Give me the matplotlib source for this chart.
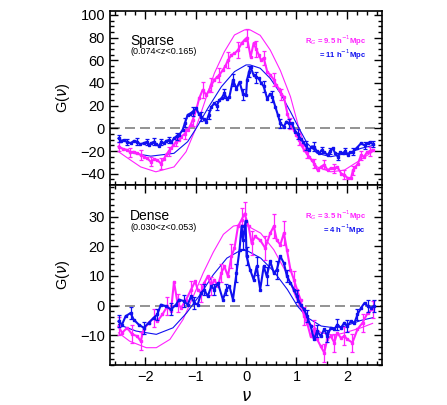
import matplotlib
matplotlib.use('Agg')
import matplotlib.pyplot as plt
from matplotlib.ticker import MultipleLocator
import numpy as np

plt.rcParams['font.family'] = ['Liberation Sans', 'DejaVu Sans']
plt.rcParams['mathtext.fontset'] = 'dejavusans'

MAG = '#ff22ff'
BLU = '#1010f0'

# ---- Sparse sample (top panel) ----
sp_mag_nu = [-2.53, -2.45, -2.36, -2.3, -2.23, -2.16, -2.09, -2.02, -1.96, -1.89, -1.82, -1.76, -1.69,
             -1.63, -1.59, -1.53, -1.49, -1.44, -1.39, -1.34, -1.29, -1.22, -1.16, -1.1, -1.06, -0.99,
             -0.93, -0.86, -0.79, -0.74, -0.69, -0.63, -0.58, -0.53, -0.46, -0.41, -0.36, -0.29, -0.23,
             -0.16, -0.09, -0.03, 0.02, 0.09, 0.15, 0.2, 0.25, 0.3, 0.35, 0.42, 0.48, 0.55, 0.6, 0.65,
             0.7, 0.75, 0.82, 0.88, 0.95, 1.0, 1.05, 1.1, 1.15, 1.2, 1.25, 1.3, 1.35, 1.42, 1.48, 1.55,
             1.62, 1.68, 1.75, 1.81, 1.89, 1.95, 2.02, 2.08, 2.12, 2.17, 2.22, 2.28, 2.34, 2.4, 2.46, 2.51]
sp_mag_G = [-16, -18, -19, -21, -20.6, -22, -23.5, -25, -26.5, -29.4, -27, -28, -31,
            -27, -23.5, -20, -17.6, -15, -11.8, -10, -7.4, -5, -1.5, 3, 7.4, 16,
            26.5, 34, 29.4, 33, 38, 42.7, 45, 47, 51.5, 55, 60, 64.7, 66,
            69, 75, 78, 80, 63, 75, 70, 65, 60, 62, 50, 47, 43, 38, 35,
            30, 28, 13, 4, -1.5, -6, -10, -15, -19, -22, -25, -28, -31, -37, -34, -32,
            -37, -35, -35, -34, -40, -41, -44, -44, -37, -34, -31, -23.6, -25, -21, -20, -19]
sp_mag_err = [4, 0, 0, 4, 0, 0, 4, 0, 0, 4, 0, 0, 5,
              0, 0, 4, 0, 0, 4, 0, 0, 4, 0, 0, 5, 0,
              0, 7, 0, 0, 6, 0, 0, 6, 0, 0, 7, 0, 0,
              7, 0, 0, 8, 0, 0, 7, 0, 0, 6, 0, 0, 6, 0, 0,
              5, 0, 0, 5, 0, 0, 5, 0, 0, 4, 0, 0, 4, 0, 0, 4,
              0, 0, 4, 0, 0, 4, 0, 0, 4, 0, 0, 4, 0, 0, 4, 0]

sp_blu_nu = [-2.53, -2.48, -2.43, -2.36, -2.29, -2.22, -2.16, -2.1, -2.03, -1.97, -1.93, -1.88, -1.83,
             -1.78, -1.73, -1.68, -1.63, -1.58, -1.53, -1.48, -1.43, -1.38, -1.33, -1.26, -1.21, -1.16,
             -1.11, -1.06, -0.99, -0.94, -0.89, -0.84, -0.79, -0.74, -0.69, -0.63, -0.58, -0.53, -0.48,
             -0.43, -0.38, -0.33, -0.26, -0.19, -0.13, -0.06, 0.0, 0.02, 0.06, 0.09, 0.15, 0.2, 0.25,
             0.3, 0.35, 0.42, 0.47, 0.52, 0.58, 0.63, 0.68, 0.75, 0.8, 0.85, 0.91, 0.98, 1.03, 1.08,
             1.13, 1.18, 1.25, 1.3, 1.35, 1.4, 1.45, 1.5, 1.55, 1.62, 1.67, 1.72, 1.77, 1.82, 1.87,
             1.92, 1.97, 2.02, 2.07, 2.12, 2.2, 2.28, 2.35, 2.41, 2.46, 2.51]
sp_blu_G = [-8.8, -11, -10.3, -12, -13, -11, -11.8, -14, -13, -12, -14.7, -13, -11.8,
            -14, -15.6, -12, -13, -11, -10.3, -12, -8.8, -7, -5.9, -1.5, 5, 11.8,
            13, 14.7, 17.6, 13, 10.3, 8, 5.9, 12, 19, 22, 20, 25, 27,
            31, 26, 28, 42.7, 35, 41, 30, 29, 43, 50, 54, 47, 45, 44,
            40, 37, 26, 30, 28, 19, 12, 4.4, 1.5, 6, 4.4, 4.4, -3, -5, -9,
            -12, -15, -19, -16, -16, -20, -22, -19, -21, -23.5, -20, -17.6, -22, -25, -21,
            -22, -20, -23.5, -21, -20.6, -17, -13.2, -15, -13.2, -12, -13.8]
sp_blu_err = [3, 0, 0, 3, 0, 0, 3, 0, 0, 3, 0, 0, 3,
              0, 0, 3, 0, 0, 3, 0, 0, 3, 0, 0, 4, 0,
              0, 4, 0, 0, 4, 0, 0, 4, 0, 0, 4, 0, 0,
              4, 0, 0, 5, 0, 0, 5, 0, 0, 5, 0, 0, 5, 0,
              0, 5, 0, 0, 5, 0, 0, 4, 0, 0, 4, 0, 0, 4, 0,
              0, 4, 0, 0, 4, 0, 0, 3, 0, 0, 3, 0, 0, 3, 0,
              0, 3, 0, 0, 3, 0, 0, 3, 0, 0, 3]

sp_mag_th_nu = [-2.53, -2.29, -2.09, -1.79, -1.43, -1.19, -1.01, -0.83, -0.63, -0.43, -0.23, -0.03,
                0.08, 0.28, 0.48, 0.68, 0.88, 1.05, 1.21, 1.41, 1.68, 1.95, 2.21, 2.51]
sp_mag_th_G = [-20.6, -28, -34, -38.3, -34, -20.6, -1.5, 22, 48.5, 67.6, 82.3, 86.8,
               86.8, 82, 69, 51, 28, 0, -22, -34, -38.3, -36.8, -29.5, -20.6]
sp_blu_th_nu = [-2.53, -2.23, -1.89, -1.43, -1.16, -0.99, -0.76, -0.49, -0.23, 0.0, 0.08,
                0.28, 0.48, 0.68, 0.88, 1.05, 1.21, 1.41, 1.68, 2.01, 2.28, 2.55]
sp_blu_th_G = [-16.2, -22, -24.5, -22, -11.8, 0, 17.6, 36.7, 50, 55.9, 55.9,
               53, 44, 31, 14.7, 0, -13, -22, -25, -22, -17.6, -14.7]

# ---- Dense sample (bottom panel) ----
de_mag_nu = [-2.53, -2.46, -2.36, -2.26, -2.16, -2.09, -2.03, -1.93, -1.83, -1.76, -1.66, -1.56, -1.49,
             -1.43, -1.36, -1.29, -1.19, -1.09, -1.01, -0.96, -0.89, -0.83, -0.76, -0.69, -0.63, -0.56,
             -0.49, -0.43, -0.36, -0.29, -0.23, -0.16, -0.09, -0.03, 0.05, 0.11, 0.18, 0.28, 0.38, 0.48,
             0.55, 0.61, 0.68, 0.75, 0.81, 0.88, 0.95, 1.01, 1.08, 1.15, 1.21, 1.28, 1.35, 1.41, 1.48,
             1.55, 1.61, 1.68, 1.75, 1.81, 1.88, 1.95, 2.01, 2.11, 2.21, 2.31, 2.41, 2.51]
de_mag_G = [-7, -9.2, -7.5, -9.7, -10.3, -12, -8, -5.8, -4.1, -5.3, -3, -0.2, -1.9,
            8, 0.9, -0.8, 2, 5.4, 8.2, 5.4, 4.3, 7.6, 9.9, 6.5, 8.7, 6.5,
            11, 13.2, 9.9, 16.6, 19.4, 26.7, 28.9, 31, 26.7, 21, 23.3, 22, 19.4, 24.4,
            26.7, 22, 20.5, 24.4, 18.8, 12.1, 8.7, 5.4, 2, -3.6, -5.8, -10.3, -8, -11.4, -13.7,
            -15.9, -11.4, -10.3, -12.5, -9.2, -10.9, -10.3, -11.4, -12.5, -8, -5.8, -2.5, -1.3]
de_mag_err = [3, 0, 0, 3, 0, 3, 0, 0, 3, 0, 0, 3, 0,
              0, 3, 0, 0, 3, 0, 0, 3, 0, 0, 3, 0, 0,
              3, 0, 0, 4, 0, 0, 4, 4, 0, 4, 0, 0, 4, 0,
              4, 0, 0, 4, 0, 0, 3, 0, 0, 3, 0, 0, 3, 0, 0,
              3, 0, 0, 3, 0, 0, 3, 0, 3, 0, 3, 0, 3]

de_blu_nu = [-2.53, -2.46, -2.39, -2.29, -2.23, -2.13, -2.03, -1.93, -1.83, -1.76, -1.69, -1.59, -1.49,
             -1.39, -1.33, -1.23, -1.16, -1.09, -1.03, -0.96, -0.89, -0.83, -0.76, -0.69, -0.63, -0.56,
             -0.46, -0.39, -0.33, -0.26, -0.19, -0.13, -0.09, -0.06, -0.01, 0.01, 0.08, 0.15, 0.21, 0.28,
             0.35, 0.41, 0.48, 0.55, 0.61, 0.68, 0.75, 0.81, 0.88, 0.95, 1.01, 1.08, 1.15, 1.21, 1.28,
             1.35, 1.41, 1.48, 1.55, 1.61, 1.68, 1.75, 1.81, 1.88, 1.95, 2.01, 2.08, 2.15, 2.21, 2.28,
             2.35, 2.41, 2.48, 2.53]
de_blu_G = [-5.3, -6.4, -3.6, -2.5, -4.7, -6.4, -7.5, -5.8, -4.1, -3, 0.3, -0.2, -1.3,
            0.3, 2, 1.5, 0.3, 3.1, 0.9, 0.3, 4.3, 5.4, 3.1, 6.5, 5.4, 7.6,
            2, 5.4, 6.5, 2, 11, 18.8, 26.7, 22, 28.5, 16.6, 12.1, 8.7, 13.2, 5.4,
            13.2, 9.9, 14.9, 11, 12.1, 16.6, 14.3, 9.9, 7.6, 5.4, 3.1, 0.3, -1.3, -3.6, -6.9,
            -11.4, -8.6, -10.3, -8, -10.3, -7.5, -8, -6.4, -7.5, -5.8, -6.9, -5.3, -5.8, -3, -0.8,
            0.9, -0.2, -0.8, -0.2]
de_blu_err = [2, 0, 0, 2, 0, 0, 2, 0, 0, 2, 0, 0, 2,
              0, 0, 2, 0, 0, 2, 0, 0, 2, 0, 0, 2, 0,
              0, 2, 0, 0, 3, 0, 0, 3, 0, 3, 0, 0, 3, 0,
              0, 3, 0, 0, 3, 0, 0, 2, 0, 0, 2, 0, 0, 2, 0,
              0, 2, 0, 0, 2, 0, 0, 2, 0, 0, 2, 0, 0, 2, 0,
              0, 2, 0, 2]

de_mag_th_nu = [-2.53, -2.31, -1.98, -1.78, -1.51, -1.25, -1.05, -0.85, -0.65, -0.45, -0.25, -0.11,
                0.02, 0.29, 0.55, 0.82, 0.95, 1.09, 1.25, 1.49, 1.75, 1.95, 2.28, 2.51]
de_mag_th_G = [-9.2, -12, -14.2, -14.2, -11.4, -4.7, 3, 11, 18, 24, 26.8, 27.2,
               26.9, 24.4, 18.8, 10.4, 4.3, -1.3, -5.8, -9.2, -10, -9.2, -7.5, -6]
de_blu_th_nu = [-2.53, -2.18, -1.78, -1.45, -1.18, -0.91, -0.65, -0.38, -0.11, 0.02, 0.29,
                0.55, 0.82, 1.02, 1.22, 1.49, 1.75, 1.95, 2.28, 2.51]
de_blu_th_G = [-6.4, -8.6, -9.7, -7.5, -2.5, 3.7, 10.4, 16, 18.6, 18.5, 16,
               11.5, 5.4, -0.2, -4.1, -6.9, -7.5, -7, -5, -4.1]

sp_yticks = [-40, -20, 0, 20, 40, 60, 80, 100]
de_yticks = [-10, 0, 10, 20, 30]


def draw_data(ax, nu, G, err, color):
    nu = np.array(nu)
    G = np.array(G)
    err = np.array(err, dtype=float)
    ax.plot(nu, G, color=color, lw=1.5, marker='s', ms=1.8, zorder=3)
    m = err > 0
    ax.errorbar(nu[m], G[m], yerr=err[m], fmt='none', ecolor=color,
                elinewidth=0.9, capsize=1.6, capthick=0.9, zorder=3)


def style_axis(ax):
    ax.axhline(0, color='#808080', lw=1.2, ls=(0, (6, 3)), zorder=1)
    ax.set_xlim(-2.7, 2.7)
    ax.xaxis.set_major_locator(MultipleLocator(1))
    ax.xaxis.set_minor_locator(MultipleLocator(0.2))
    ax.tick_params(which='both', direction='in', top=True, right=True, labelsize=10.5, width=1.0)
    ax.tick_params(which='major', length=6)
    ax.tick_params(which='minor', length=3)
    for s in ax.spines.values():
        s.set_linewidth(1.2)
    ax.set_ylabel(r'G($\nu$)', fontsize=10.5, labelpad=6)


fig = plt.figure(figsize=(4.47, 4.05), dpi=100)
ax1 = fig.add_axes([0.246, 0.543, 0.609, 0.430])
ax2 = fig.add_axes([0.246, 0.099, 0.609, 0.444])

# top panel
ax1.plot(sp_mag_th_nu, sp_mag_th_G, color=MAG, lw=0.8, zorder=2)
ax1.plot(sp_blu_th_nu, sp_blu_th_G, color=BLU, lw=0.8, zorder=2)
draw_data(ax1, sp_mag_nu, sp_mag_G, sp_mag_err, MAG)
draw_data(ax1, sp_blu_nu, sp_blu_G, sp_blu_err, BLU)
style_axis(ax1)
ax1.set_ylim(-50, 103.5)
ax1.set_yticks(sp_yticks)
ax1.yaxis.set_minor_locator(MultipleLocator(5))
ax1.tick_params(labelbottom=False)
ax1.text(0.074, 0.83, 'Sparse', transform=ax1.transAxes, fontsize=10, va='center')
ax1.text(0.074, 0.765, '(0.074<z<0.165)', transform=ax1.transAxes, fontsize=6.5, va='center')
ax1.text(0.941, 0.83, r'R$_G$ = 9.5 h$^{-1}$Mpc', transform=ax1.transAxes, fontsize=5.5,
         fontweight='bold', color=MAG, ha='right', va='center')
ax1.text(0.941, 0.75, r'= 11 h$^{-1}$Mpc', transform=ax1.transAxes, fontsize=5.5,
         fontweight='bold', color=BLU, ha='right', va='center')

# bottom panel
ax2.plot(de_mag_th_nu, de_mag_th_G, color=MAG, lw=0.8, zorder=2)
ax2.plot(de_blu_th_nu, de_blu_th_G, color=BLU, lw=0.8, zorder=2)
draw_data(ax2, de_mag_nu, de_mag_G, de_mag_err, MAG)
draw_data(ax2, de_blu_nu, de_blu_G, de_blu_err, BLU)
style_axis(ax2)
ax2.set_ylim(-20, 40.6)
ax2.set_yticks(de_yticks)
ax2.yaxis.set_minor_locator(MultipleLocator(2))
ax2.set_xlabel(r'$\nu$', fontsize=12, labelpad=4)
ax2.text(0.074, 0.83, 'Dense', transform=ax2.transAxes, fontsize=10, va='center')
ax2.text(0.074, 0.765, '(0.030<z<0.053)', transform=ax2.transAxes, fontsize=6.5, va='center')
ax2.text(0.941, 0.83, r'R$_G$ = 3.5 h$^{-1}$Mpc', transform=ax2.transAxes, fontsize=5.5,
         fontweight='bold', color=MAG, ha='right', va='center')
ax2.text(0.941, 0.75, r'= 4 h$^{-1}$Mpc', transform=ax2.transAxes, fontsize=5.5,
         fontweight='bold', color=BLU, ha='right', va='center')

fig.savefig('out.png', dpi=100)
